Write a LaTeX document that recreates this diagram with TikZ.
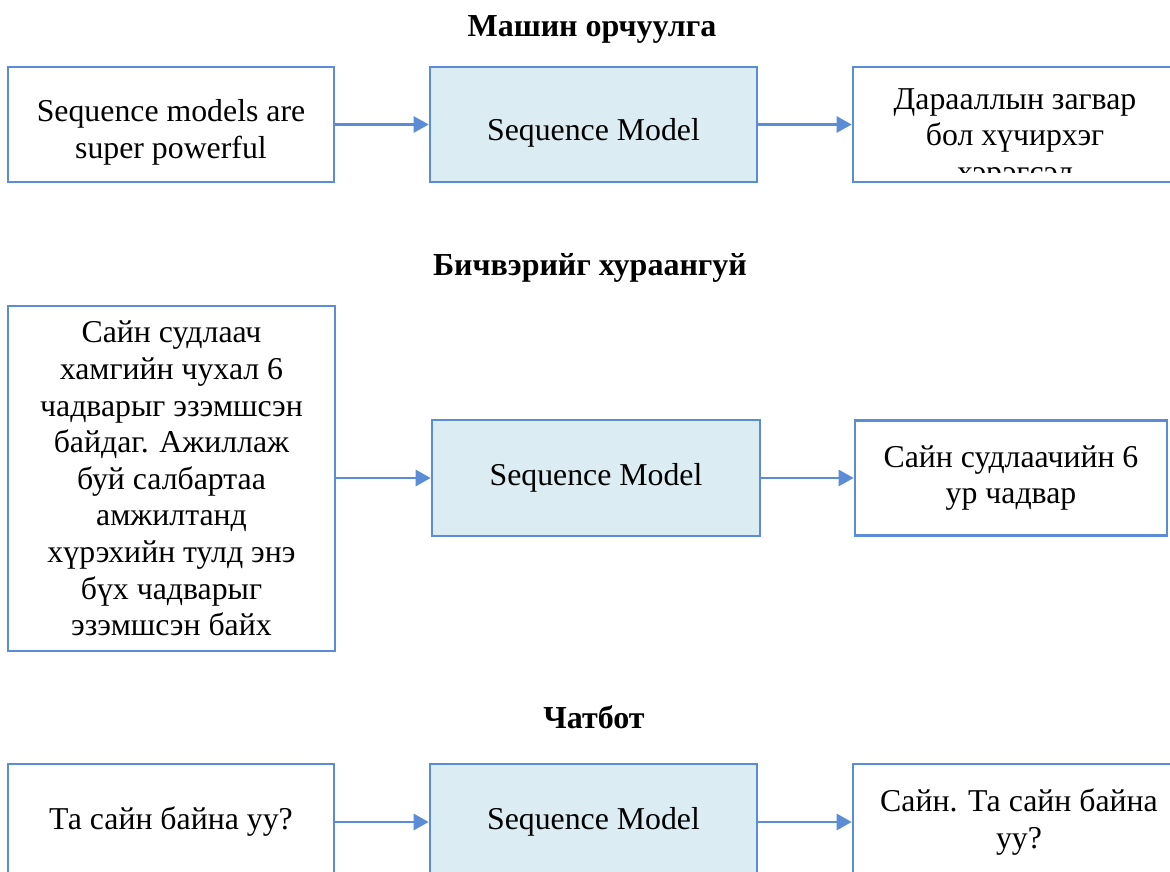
\documentclass[tikz,border=0pt]{standalone}
\usepackage{fontspec}
\setmainfont{Liberation Serif}
\usepackage{tikz}
\usetikzlibrary{arrows.meta}
\definecolor{bbblue}{RGB}{91,141,214}
\definecolor{llblue}{RGB}{219,237,243}
\tikzset{
  boxtext/.style={inner sep=0pt,align=center,font=\fontsize{31.8}{36.6}\selectfont},
  txtbox/.style={boxtext,draw=bbblue,line width=2.6pt,fill=white},
  modbox/.style={txtbox,fill=llblue},
  head/.style={font=\fontsize{32}{36}\selectfont\bfseries,inner sep=0pt,anchor=base},
  flow/.style={draw=bbblue,line width=2.7pt,-{Triangle[length=15pt,width=16pt]}}
}

\begin{document}
\begin{tikzpicture}[x=1pt,y=-1pt]
  \clip (0,0) rectangle (1170,872);
  \fill[white] (0,0) rectangle (1170,872);

  % machine translation
  \node[head] (h1) at (592,37) {Машин орчуулга};
  \node[txtbox,minimum width=326,minimum height=115] (in1) at (171,124.5) {};
  \node[modbox,minimum width=327,minimum height=115] (mod1) at (593.5,124.5) {};
  \node[txtbox,minimum width=332,minimum height=115] (out1) at (1019,124.5) {};
  \node[boxtext,yshift=-8pt] (in1txt) at (in1.center) {Sequence models are\\super powerful};
  \node[boxtext,yshift=-8pt] (mod1txt) at (mod1.center) {Sequence Model};
  \begin{scope}
    \clip (855,69) rectangle (1185,172);
    \node[boxtext,anchor=north] (out1txt) at (1015,88) {Дарааллын загвар\\бол хүчирхэг\\хэрэгсэл};
  \end{scope}
  \draw[flow] (in1) -- (mod1);
  \draw[flow] (mod1) -- (out1);

  % text summarization
  \node[head] (h2) at (590,275) {Бичвэрийг хураангуй};
  \node[txtbox,minimum width=327,minimum height=345] (in2) at (171.5,478.5) {Сайн судлаач\\хамгийн чухал 6\\чадварыг эзэмшсэн\\байдаг. Ажиллаж\\буй салбартаа\\амжилтанд\\хүрэхийн тулд энэ\\бүх чадварыг\\эзэмшсэн байх};
  \node[modbox,minimum width=328,minimum height=116] (mod2) at (596,478) {Sequence Model};
  \node[txtbox,minimum width=312,minimum height=115] (out2) at (1011,478) {Сайн судлаачийн 6\\ур чадвар};
  \draw[flow] (in2.east |- mod2) -- (mod2);
  \draw[flow] (mod2) -- (out2);

  % chatbot
  \node[head] (h3) at (594,728) {Чатбот};
  \node[txtbox,minimum width=326,minimum height=116] (in3) at (171,822) {Та сайн байна уу?};
  \node[modbox,minimum width=327,minimum height=116] (mod3) at (593.5,822) {Sequence Model};
  \node[txtbox,minimum width=332,minimum height=116] (out3) at (1019,822) {Сайн. Та сайн байна\\уу?};
  \draw[flow] (in3) -- (mod3);
  \draw[flow] (mod3) -- (out3);
\end{tikzpicture}
\end{document}
